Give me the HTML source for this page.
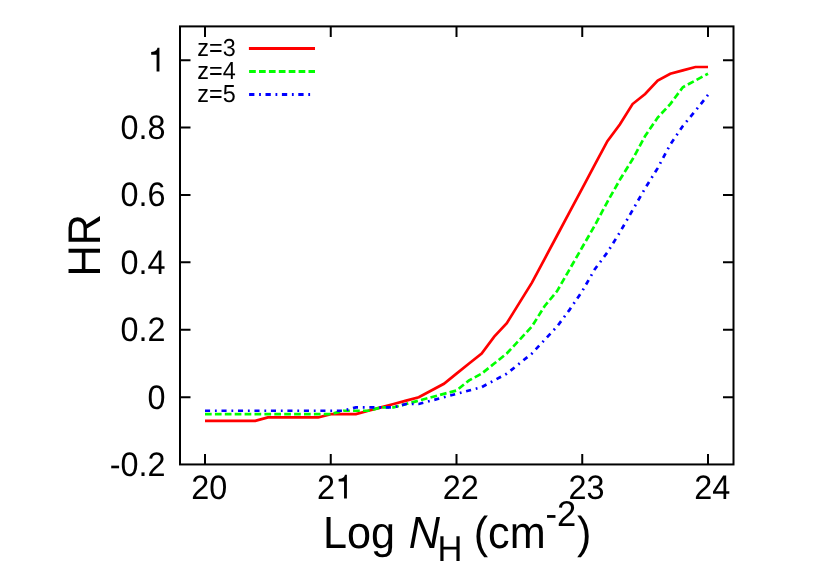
<!DOCTYPE html>
<html><head><meta charset="utf-8"><title>HR vs Log N_H</title>
<style>html,body{margin:0;padding:0;background:#fff;}body{width:830px;height:580px;overflow:hidden;}svg{display:block;will-change:transform;}text{font-family:"Liberation Sans",sans-serif;fill:#000;text-rendering:geometricPrecision;}</style>
</head><body>
<svg width="830" height="580" viewBox="0 0 830 580">
<rect x="0" y="0" width="830" height="580" fill="#ffffff"/>
<g stroke="#000" stroke-width="2" fill="none" stroke-linecap="butt">
<rect x="180.00" y="26.40" width="553.50" height="438.05"/>
<path d="M205.00 464.45V453.95 M205.00 26.40V36.90"/>
<path d="M330.75 464.45V453.95 M330.75 26.40V36.90"/>
<path d="M456.50 464.45V453.95 M456.50 26.40V36.90"/>
<path d="M582.25 464.45V453.95 M582.25 26.40V36.90"/>
<path d="M708.00 464.45V453.95 M708.00 26.40V36.90"/>
<path d="M180.00 397.15H190.50 M733.50 397.15H723.00"/>
<path d="M180.00 329.75H190.50 M733.50 329.75H723.00"/>
<path d="M180.00 262.35H190.50 M733.50 262.35H723.00"/>
<path d="M180.00 194.95H190.50 M733.50 194.95H723.00"/>
<path d="M180.00 127.55H190.50 M733.50 127.55H723.00"/>
<path d="M180.00 60.15H190.50 M733.50 60.15H723.00"/>
</g>
<text transform="translate(165.50,475.95) scale(1,1.050)" font-size="32.40" text-anchor="end">-0.2</text>
<text transform="translate(165.50,408.55) scale(1,1.050)" font-size="32.40" text-anchor="end">0</text>
<text transform="translate(165.50,341.15) scale(1,1.050)" font-size="32.40" text-anchor="end">0.2</text>
<text transform="translate(165.50,273.75) scale(1,1.050)" font-size="32.40" text-anchor="end">0.4</text>
<text transform="translate(165.50,206.35) scale(1,1.050)" font-size="32.40" text-anchor="end">0.6</text>
<text transform="translate(165.50,138.95) scale(1,1.050)" font-size="32.40" text-anchor="end">0.8</text>
<path transform="translate(147.48,71.55)" fill="#000" d="M9.1 0H11.95V-23.7H10C9.5-21.5 8.3-19.8 3.7-19.6V-16.9H9.1Z"/>
<text transform="translate(209.20,498.60) scale(1,1.050)" font-size="32.40" text-anchor="middle">20</text>
<text transform="translate(334.95,498.60) scale(1,1.050)" font-size="32.40" text-anchor="end">2</text>
<path transform="translate(334.95,498.50)" fill="#000" d="M9.1 0H11.95V-23.7H10C9.5-21.5 8.3-19.8 3.7-19.6V-16.9H9.1Z"/>
<text transform="translate(460.70,498.60) scale(1,1.050)" font-size="32.40" text-anchor="middle">22</text>
<text transform="translate(586.45,498.60) scale(1,1.050)" font-size="32.40" text-anchor="middle">23</text>
<text transform="translate(712.20,498.60) scale(1,1.050)" font-size="32.40" text-anchor="middle">24</text>
<text transform="translate(99.50,276.50) rotate(-90) scale(1,1.060)" font-size="43.20">HR</text>
<text transform="translate(322.90,548.00) scale(1,1.040)" font-size="43.20">Log <tspan font-style="italic" dx="1.8">N</tspan><tspan font-size="34.56" dy="12.02" dx="-2.4">H</tspan><tspan dy="-12.02" dx="-0.8"> (cm</tspan><tspan font-size="34.56" dy="-20.96" dx="-0.2">-2</tspan><tspan dy="20.96" dx="0.8">)</tspan></text>
<text transform="translate(197.30,55.70) scale(1,1.050)" font-size="23.40">z=3</text>
<text transform="translate(197.30,78.70) scale(1,1.050)" font-size="23.40">z=4</text>
<text transform="translate(197.30,101.70) scale(1,1.050)" font-size="23.40">z=5</text>
<g fill="none" stroke-width="2.7" stroke-linecap="butt" stroke-linejoin="miter">
<path d="M248.9 48.5H315" stroke="#ff0000" stroke-width="3.1"/>
<path d="M249.1 71.5H315" stroke="#00ff00" stroke-width="3.1" stroke-dasharray="6.7 3.2"/>
<path d="M249.1 94.5H312" stroke="#0000ff" stroke-width="3.1" stroke-dasharray="5.3 4.7 1.8 4.6"/>
<polyline points="205.00,420.84 217.58,420.84 230.15,420.84 242.73,420.84 255.30,420.84 267.88,417.47 280.45,417.47 293.02,417.47 305.60,417.47 318.17,417.47 330.75,414.10 343.33,414.10 355.90,414.10 368.48,410.73 381.05,407.36 393.62,403.99 406.20,400.62 418.77,397.25 431.35,390.51 443.92,383.77 456.50,373.66 469.08,363.55 481.65,353.44 494.23,336.59 506.80,323.11 519.38,302.89 531.95,282.67 544.52,259.08 557.10,235.49 569.67,211.90 582.25,188.31 594.83,164.72 607.40,141.13 619.98,124.28 632.55,104.06 645.12,93.95 657.70,80.47 670.27,73.73 682.85,70.36 695.42,66.99 708.00,66.99" stroke="#ff0000"/>
<polyline points="205.00,414.10 217.58,414.10 230.15,414.10 242.73,414.10 255.30,414.10 267.88,414.10 280.45,414.10 293.02,414.10 305.60,414.10 318.17,414.10 330.75,414.10 343.33,410.73 355.90,410.73 368.48,410.73 381.05,407.36 393.62,407.36 406.20,403.99 418.77,400.62 431.35,397.25 443.92,393.88 456.50,390.51 469.08,380.40 481.65,373.66 494.23,363.55 506.80,353.44 519.38,339.96 531.95,326.48 544.52,306.26 557.10,291.10 569.67,269.19 582.25,247.28 594.83,225.38 607.40,201.79 619.98,179.55 632.55,159.33 645.12,136.07 657.70,117.54 670.27,104.06 682.85,87.21 695.42,80.47 708.00,73.73" stroke="#00ff00" stroke-dasharray="6.7 3.2"/>
<polyline points="205.00,410.73 217.58,410.73 230.15,410.73 242.73,410.73 255.30,410.73 267.88,410.73 280.45,410.73 293.02,410.73 305.60,410.73 318.17,410.73 330.75,410.73 343.33,410.73 355.90,407.36 368.48,407.36 381.05,407.36 393.62,407.36 406.20,403.99 418.77,403.99 431.35,400.62 443.92,397.25 456.50,393.88 469.08,390.51 481.65,387.14 494.23,380.40 506.80,373.66 519.38,363.55 531.95,353.44 544.52,339.96 557.10,326.48 569.67,309.63 582.25,291.10 594.83,269.19 607.40,252.34 619.98,232.12 632.55,210.21 645.12,188.31 657.70,168.09 670.27,144.50 682.85,125.96 695.42,110.80 708.00,94.96" stroke="#0000ff" stroke-dasharray="5.1 4.84 1.8 4.74"/>
</g>
</svg>
</body></html>
